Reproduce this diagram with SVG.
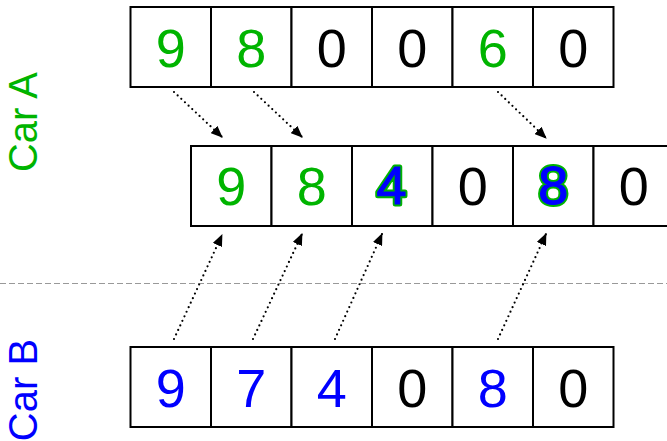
<svg xmlns="http://www.w3.org/2000/svg" width="667" height="441" viewBox="0 0 667 441">
<style>
.cell{fill:#fff;stroke:#000;stroke-width:2}
.d{font-family:"Liberation Sans",Arial,sans-serif;font-size:54px;text-anchor:middle}
.g{fill:#00b400}
.b{fill:#0000ff}
.k{fill:#000}
.go{fill:#00b400;stroke:#00b400;stroke-width:5;stroke-linejoin:round}
.bi{fill:#0000ff;stroke:#0000ff;stroke-width:1.2}
.lbl{font-family:"Liberation Sans",Arial,sans-serif;font-size:40px;text-anchor:middle}
.arr{fill:none;stroke:#000;stroke-width:2.2;stroke-dasharray:0 5;stroke-linecap:round;marker-end:url(#ah)}
</style>
<defs>
<marker id="ah" markerWidth="12" markerHeight="10" refX="11" refY="5" orient="auto" markerUnits="userSpaceOnUse">
<path d="M0,0 L12,5 L0,10 z" fill="#000"/>
</marker>
</defs>
<g id="labels">
<text class="lbl g" transform="translate(37,122) rotate(-90)">Car A</text>
<text class="lbl b" transform="translate(37,390) rotate(-90)">Car B</text>
</g>
<line id="divider" x1="0" y1="283.5" x2="667" y2="283.5" stroke="#999" stroke-width="1.2" stroke-dasharray="6,3"/>
<g id="rowA">
<rect class="cell" x="130.5" y="7" width="80.5" height="80"/>
<rect class="cell" x="211" y="7" width="80.5" height="80"/>
<rect class="cell" x="291.5" y="7" width="80.5" height="80"/>
<rect class="cell" x="372" y="7" width="80.5" height="80"/>
<rect class="cell" x="452.5" y="7" width="80.5" height="80"/>
<rect class="cell" x="533" y="7" width="80.5" height="80"/>
<text class="d g" x="170.7" y="67">9</text>
<text class="d g" x="251.2" y="67">8</text>
<text class="d k" x="331.7" y="67">0</text>
<text class="d k" x="412.2" y="67">0</text>
<text class="d g" x="492.7" y="67">6</text>
<text class="d k" x="573.2" y="67">0</text>
</g>
<g id="rowMerged">
<rect class="cell" x="191" y="146" width="80.5" height="80"/>
<rect class="cell" x="271.5" y="146" width="80.5" height="80"/>
<rect class="cell" x="352" y="146" width="80.5" height="80"/>
<rect class="cell" x="432.5" y="146" width="80.5" height="80"/>
<rect class="cell" x="513" y="146" width="80.5" height="80"/>
<rect class="cell" x="593.5" y="146" width="80.5" height="80"/>
<text class="d g" x="231.2" y="205">9</text>
<text class="d g" x="311.7" y="205">8</text>
<text class="d go" x="391.5" y="204">4</text>
<text class="d bi" x="391.5" y="204">4</text>
<text class="d k" x="472.7" y="205">0</text>
<text class="d go" x="553.2" y="204">8</text>
<text class="d bi" x="553.2" y="204">8</text>
<text class="d k" x="633.7" y="205">0</text>
</g>
<g id="rowB">
<rect class="cell" x="130.5" y="347" width="80.5" height="80"/>
<rect class="cell" x="211" y="347" width="80.5" height="80"/>
<rect class="cell" x="291.5" y="347" width="80.5" height="80"/>
<rect class="cell" x="372" y="347" width="80.5" height="80"/>
<rect class="cell" x="452.5" y="347" width="80.5" height="80"/>
<rect class="cell" x="533" y="347" width="80.5" height="80"/>
<text class="d b" x="170.7" y="407">9</text>
<text class="d b" x="251.2" y="407">7</text>
<text class="d b" x="331.7" y="407">4</text>
<text class="d k" x="412.2" y="407">0</text>
<text class="d b" x="492.7" y="407">8</text>
<text class="d k" x="573.2" y="407">0</text>
</g>
<g id="connectors">
<path class="arr" d="M174,92 L222,137"/>
<path class="arr" d="M254,92 L302,137"/>
<path class="arr" d="M498,92 L546,138"/>
<path class="arr" d="M174,339 L222,235"/>
<path class="arr" d="M253,339 L302,234"/>
<path class="arr" d="M335,339 L382,234"/>
<path class="arr" d="M498,339 L546,234"/>
</g>
</svg>
